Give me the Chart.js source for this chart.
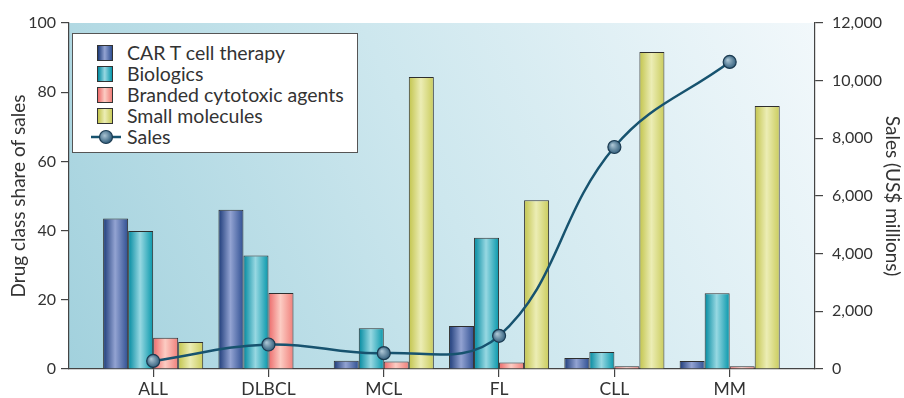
<!DOCTYPE html>
<html>
<head>
<meta charset="utf-8">
<script src="https://cdn.jsdelivr.net/npm/chart.js@4/dist/chart.umd.min.js"></script>
<style>
  body { margin: 0; background: #fff; }
  #wrap { position: relative; width: 904px; height: 398px; }
  #legend {
    position: absolute; left: 72px; top: 33px; width: 286px; height: 120px;
    box-sizing: border-box; border: 1.5px solid #555; background: #fff;
    font-family: Lato, sans-serif; font-size: 19.5px; color: #333; padding-top: 8px;
  }
  .item { height: 21px; display: flex; align-items: center; white-space: nowrap; }
  .sw { width: 16px; height: 16px; margin-left: 24px; margin-right: 14px; box-sizing: border-box; border: 1px solid #333; }
  .ln { margin-left: 18px; margin-right: 6px; }
</style>
</head>
<body>
<div id="wrap">
  <canvas id="chart"></canvas>
  <div id="legend"></div>
</div>
<script>
// data
const categories = ['ALL', 'DLBCL', 'MCL', 'FL', 'CLL', 'MM'];
const carT = [43.5, 46, 2.4, 12.4, 3.2, 2.3];
const biologics = [39.9, 32.8, 11.8, 37.9, 4.9, 21.9];
const brandedCytotoxic = [9, 22, 2.2, 1.9, 0.8, 0.8];
const smallMolecules = [7.8, null, 84.4, 48.8, 91.6, 76];
const sales = [280, 850, 550, 1150, 7700, 10650];
const leftTicks = [0, 20, 40, 60, 80, 100];
const rightTicks = [0, 2000, 4000, 6000, 8000, 10000, 12000];

const barNames = ['CAR T cell therapy', 'Biologics', 'Branded cytotoxic agents', 'Small molecules'];
const barValues = [carT, biologics, brandedCytotoxic, smallMolecules];
// [edge, highlight, right edge]
const barShades = [
    ['#1c3a78', '#93a3d2', '#2f4f92'],
    ['#00899f', '#97d8e2', '#0797ab'],
    ['#ec6a6a', '#fcccc3', '#f07f7a'],
    ['#c2c44c', '#ecedb5', '#cacc5c']
];
const catPct = 0.868;
const font = { family: 'Lato, sans-serif', size: 16 };
const textColor = '#333';

function shadeFill(ctx, x0, w, shade) {
    const g = ctx.createLinearGradient(x0, 0, x0 + w, 0);
    g.addColorStop(0, shade[0]);
    g.addColorStop(0.48, shade[1]);
    g.addColorStop(1, shade[2]);
    return g;
}

function barFill(k) {
    return function(c) {
        const chart = c.chart;
        const xs = chart.scales.x;
        if (!xs || c.type !== 'data') return barShades[k][1];
        const step = xs.getPixelForValue(1) - xs.getPixelForValue(0);
        const group = step * catPct;
        const left = xs.getPixelForValue(c.dataIndex) - group / 2 + k * group / 4;
        if (!isFinite(left) || !isFinite(step)) return barShades[k][1];
        return shadeFill(chart.ctx, left, group / 4, barShades[k]);
    };
}

function dotFill(c) {
    const chart = c.chart;
    const xs = chart.scales.x, ys = chart.scales.y2;
    if (!xs || !ys || c.type !== 'data') return '#4d7d99';
    const x = xs.getPixelForValue(c.dataIndex), y = ys.getPixelForValue(sales[c.dataIndex]);
    if (!isFinite(x) || !isFinite(y)) return '#4d7d99';
    const g = chart.ctx.createRadialGradient(x - 2, y - 2, 0.5, x, y, 7);
    g.addColorStop(0, '#a9c3d2');
    g.addColorStop(1, '#2d5a78');
    return g;
}

const plotBackground = {
    id: 'plotBackground',
    beforeDraw(chart) {
        const { ctx, chartArea: { left, top, right, bottom } } = chart;
        const g = ctx.createLinearGradient(left, bottom, right, top);
        g.addColorStop(0, '#a2d1dd');
        g.addColorStop(0.5, '#cde7ee');
        g.addColorStop(1, '#f2f8fb');
        ctx.save();
        ctx.fillStyle = g;
        ctx.fillRect(left, top, right - left, bottom - top);
        ctx.restore();
    }
};

const datasets = barNames.map((name, k) => ({
    type: 'bar',
    label: name,
    data: categories.map((c, i) => ({ x: i, y: barValues[k][i] })),
    backgroundColor: barFill(k),
    borderColor: '#2e2e2e',
    borderWidth: 1,
    yAxisID: 'y',
    order: 2
}));
datasets.push({
    type: 'line',
    label: 'Sales',
    data: categories.map((c, i) => ({ x: i, y: sales[i] })),
    borderColor: '#17536f',
    borderWidth: 2.5,
    tension: 0.4,
    pointRadius: 6.5,
    pointBackgroundColor: dotFill,
    pointBorderColor: '#1b3a50',
    pointBorderWidth: 1.2,
    yAxisID: 'y2',
    order: 1
});

const axisLine = { display: true, color: '#444', width: 1.2 };
const tickGrid = { drawOnChartArea: false, tickLength: 8, color: '#444', lineWidth: 1.2, offset: false };
const titleFont = { family: 'Lato, sans-serif', size: 19 };

const chart = new Chart(document.getElementById('chart'), {
    type: 'bar',
    data: { datasets: datasets },
    options: {
        responsive: true,
        maintainAspectRatio: false,
        animation: false,
        layout: { padding: { top: 23, left: 0, right: 0, bottom: 0 } },
        categoryPercentage: catPct,
        barPercentage: 1,
        plugins: { legend: { display: false }, tooltip: { enabled: false } },
        scales: {
            x: {
                type: 'linear',
                offset: false,
                min: -0.73,
                max: 5.74,
                afterBuildTicks: s => { s.ticks = categories.map((c, i) => ({ value: i })); },
                afterFit: s => { s.height = 29; },
                ticks: { callback: v => categories[v], font: { family: 'Lato, sans-serif', size: 17.5 }, color: textColor, padding: 2, autoSkip: false, maxRotation: 0 },
                grid: tickGrid,
                border: axisLine
            },
            y: {
                position: 'left',
                min: 0, max: 100,
                afterBuildTicks: s => { s.ticks = leftTicks.map(v => ({ value: v })); },
                afterFit: s => { s.width = 69; },
                ticks: { font: font, color: textColor, padding: 5 },
                grid: tickGrid,
                border: axisLine,
                title: { display: true, text: 'Drug class share of sales', font: titleFont, color: textColor, padding: { top: 7, bottom: 0 } }
            },
            y2: {
                position: 'right',
                min: 0, max: 12000,
                afterBuildTicks: s => { s.ticks = rightTicks.map(v => ({ value: v })); },
                afterFit: s => { s.width = 89; },
                ticks: { font: font, color: textColor, padding: 9, callback: v => v.toLocaleString('en-US') },
                grid: tickGrid,
                border: axisLine,
                title: { display: true, text: 'Sales (US$ millions)', font: titleFont, color: textColor, padding: { top: 0, bottom: 0 } }
            }
        }
    },
    plugins: [plotBackground]
});

// legend box built from the dataset names
const legend = document.getElementById('legend');
barNames.forEach((name, k) => {
    const s = barShades[k];
    legend.insertAdjacentHTML('beforeend',
        '<div class="item"><span class="sw" style="background:linear-gradient(to right,' + s[0] + ',' + s[1] + ' 48%,' + s[2] + ')"></span>' + name + '</div>');
});
legend.insertAdjacentHTML('beforeend',
    '<div class="item"><svg class="ln" width="30" height="16"><line x1="0" y1="8" x2="30" y2="8" stroke="#17536f" stroke-width="2.5"/>' +
    '<defs><radialGradient id="dg" cx="0.4" cy="0.4" r="0.6"><stop offset="0" stop-color="#a9c3d2"/><stop offset="1" stop-color="#2d5a78"/></radialGradient></defs>' +
    '<circle cx="15" cy="8" r="6.5" fill="url(#dg)" stroke="#1b3a50" stroke-width="1.2"/></svg>Sales</div>');
</script>
</body>
</html>
